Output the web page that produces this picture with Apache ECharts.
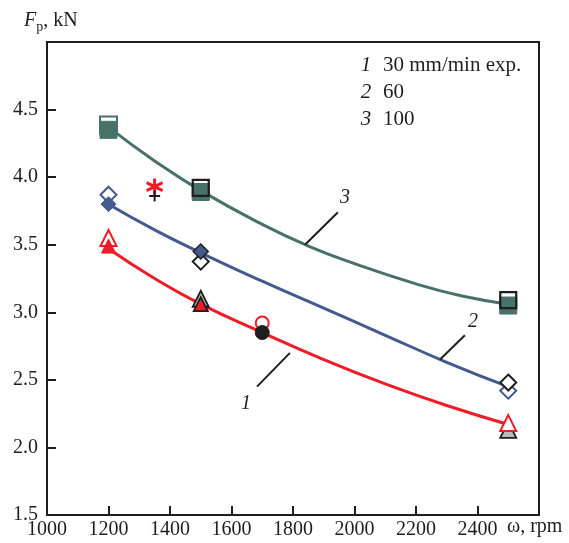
<!DOCTYPE html>
<html><head><meta charset="utf-8">
<script src="https://cdn.jsdelivr.net/npm/echarts@6/dist/echarts.min.js"></script>
<style>html,body{margin:0;padding:0;background:#fff}#c{width:569px;height:543px}</style>
</head><body><div id="c"></div>
<script>
// ---- data ----
const xTicks = [1000, 1200, 1400, 1600, 1800, 2000, 2200, 2400, 2600];
const yTicks = [1.5, 2.0, 2.5, 3.0, 3.5, 4.0, 4.5, 5.0];
// fitted curves
const curve1 = [[1200,3.47],[1350,3.25],[1500,3.06],[1700,2.85],[1900,2.65],[2100,2.47],[2300,2.31],[2500,2.17]];
const curve2 = [[1200,3.80],[1350,3.61],[1500,3.44],[1700,3.23],[1900,3.03],[2100,2.83],[2300,2.63],[2500,2.45]];
const curve3 = [[1200,4.37],[1350,4.12],[1500,3.90],[1700,3.65],[1850,3.49],[2000,3.36],[2200,3.21],[2350,3.12],[2500,3.06]];
// experimental markers
const redOpenTri = [[1200,3.55],[2500,2.18]];
const redFillTri = [[1200,3.49]];
const blackOpenTri = [[1500,3.10],[2500,2.13]];
const redTriBlackEdge = [[1500,3.06]];
const redOpenCircle = [[1700,2.92]];
const blackCircle = [[1700,2.85]];
const redStar = [[1350,3.93]];
const blackPlus = [[1350,3.86]];
const blueOpenDia = [[1200,3.87],[2500,2.42]];
const blueFillDia = [[1200,3.80]];
const blueDiaBlackEdge = [[1500,3.45]];
const blackOpenDia = [[1500,3.375],[2500,2.48]];
const tealOpenSq = [[1200,4.385]];
const tealFillSq = [[1200,4.35],[1500,3.89],[2500,3.05]];
const blackOpenSq = [[1500,3.92],[2500,3.09]];
// curve labels: [text, leader start (on curve), leader end, text position]
const curveLabels = [
  ['1', [1790,2.70], [1683,2.45], [1647,2.32]],
  ['2', [2278,2.65], [2359,2.83], [2385,2.93]],
  ['3', [1839,3.50], [1946,3.74], [1969,3.85]]
];
const legendRows = [['1','30 mm/min exp.'],['2','60'],['3','100']];

const RED = '#ef1b27', BLUE = '#435a8f', TEAL = '#477169', BLACK = '#1e1e1e';
const FONT = 'Liberation Serif';
const FS = 20;
const STAR = 'path://M5,0L5,10M0.67,2.5L9.33,7.5M0.67,7.5L9.33,2.5';
const PLUS = 'path://M5,0L5,10M0,5L10,5';

function line(data, color) {
  return {type:'line', data, smooth:true, showSymbol:false, symbol:'none', z:2,
    lineStyle:{color, width:3}, silent:true};
}
function sc(data, symbol, size, fill, edge, bw, z) {
  return {type:'scatter', data, symbol, symbolSize:size, z:z||5, silent:true,
    itemStyle:{color:fill, borderColor:edge, borderWidth:bw, opacity:1}};
}

const chart = echarts.init(document.getElementById('c'), null, {renderer:'canvas'});
const option = {
  animation:false,
  backgroundColor:'#fff',
  grid:{left:47, right:30, top:42, bottom:28, show:true, borderColor:BLACK, borderWidth:2, backgroundColor:'transparent'},
  xAxis:{type:'value', min:xTicks[0], max:xTicks[xTicks.length-1], interval:200,
    axisLine:{lineStyle:{color:BLACK, width:2}},
    axisTick:{inside:true, length:9, lineStyle:{color:BLACK, width:2}},
    splitLine:{show:false},
    axisLabel:{fontFamily:FONT, fontSize:FS, color:BLACK, margin:5,
      formatter:v => (v === 2600 ? '' : String(v))}},
  yAxis:{type:'value', min:yTicks[0], max:yTicks[yTicks.length-1], interval:0.5,
    axisLine:{lineStyle:{color:BLACK, width:2}},
    axisTick:{inside:true, length:9, lineStyle:{color:BLACK, width:2}},
    splitLine:{show:false},
    axisLabel:{fontFamily:FONT, fontSize:FS, color:BLACK, margin:9,
      formatter:v => (v === 5 ? '' : v.toFixed(1))}},
  series:[
    line(curve1, RED), line(curve2, BLUE), line(curve3, TEAL),
    sc(blackOpenTri, 'triangle', 16, '#bbb', BLACK, 1.8, 5),
    sc(redTriBlackEdge, 'triangle', 14, RED, BLACK, 1.8, 6),
    sc(redOpenTri, 'triangle', 16, '#fff', RED, 2, 6),
    sc(redFillTri, 'triangle', 14, RED, RED, 1, 7),
    sc(redOpenCircle, 'circle', 13, '#fff', RED, 2, 5),
    sc(blackCircle, 'circle', 14, BLACK, BLACK, 1, 6),
    sc(redStar, STAR, 16, 'none', RED, 3, 6),
    sc(blackPlus, PLUS, 11, 'none', BLACK, 2, 6),
    sc(blueOpenDia, 'diamond', 16, '#fff', BLUE, 2, 5),
    sc(blackOpenDia, 'diamond', 16, '#fff', BLACK, 2, 5),
    sc(blueFillDia, 'diamond', 15, BLUE, BLUE, 1, 6),
    sc(blueDiaBlackEdge, 'diamond', 15, BLUE, BLACK, 1.5, 7),
    sc(tealOpenSq, 'rect', 17, '#fff', TEAL, 2, 5),
    sc(tealFillSq, 'rect', 17, TEAL, TEAL, 1, 6),
    sc(blackOpenSq, 'rect', 16, 'transparent', BLACK, 2.2, 7)
  ]
};
chart.setOption(option);

// annotations placed through the chart's own coordinate conversion
const g = [];
curveLabels.forEach(([t, a, b, p]) => {
  const pa = chart.convertToPixel({gridIndex:0}, a);
  const pb = chart.convertToPixel({gridIndex:0}, b);
  const pt = chart.convertToPixel({gridIndex:0}, p);
  g.push({type:'line', shape:{x1:pa[0], y1:pa[1], x2:pb[0], y2:pb[1]}, style:{stroke:BLACK, lineWidth:2}, z:10});
  g.push({type:'text', x:pt[0], y:pt[1], z:10, style:{text:t, font:'italic ' + FS + 'px ' + FONT, fill:BLACK, align:'center', verticalAlign:'middle'}});
});
legendRows.forEach(([n, s], i) => {
  const y = 65 + i * 27;
  g.push({type:'text', x:366, y, z:10, style:{text:n, font:'italic 21px ' + FONT, fill:BLACK, align:'center', verticalAlign:'middle'}});
  g.push({type:'text', x:383, y, z:10, style:{text:s, font:'21px ' + FONT, fill:BLACK, align:'left', verticalAlign:'middle'}});
});
g.push({type:'text', x:24, y:21, z:10, style:{
  text:'{f|F}{s|p}{n|, kN}', verticalAlign:'middle',
  rich:{f:{font:'italic ' + FS + 'px ' + FONT, fill:BLACK},
        s:{font:'14px ' + FONT, fill:BLACK, padding:[12,0,0,0]},
        n:{font:FS + 'px ' + FONT, fill:BLACK}}}});
g.push({type:'text', x:507, y:527, z:10, style:{text:'ω, rpm', font:FS + 'px ' + FONT, fill:BLACK, align:'left', verticalAlign:'middle'}});
chart.setOption({graphic:g});
</script></body></html>
